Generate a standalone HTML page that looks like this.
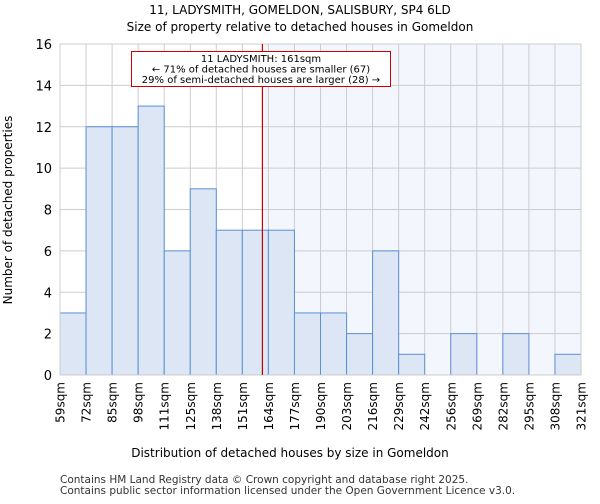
<!DOCTYPE html>
<html><head><meta charset="utf-8"><style>
body{margin:0;background:#fff;font-family:"DejaVu Sans","Liberation Sans",sans-serif}
</style></head><body>
<svg width="600" height="500" style="font-family:'DejaVu Sans','Liberation Sans',sans-serif">
<text x="300" y="14" text-anchor="middle" font-size="12">11, LADYSMITH, GOMELDON, SALISBURY, SP4 6LD</text>
<text x="300" y="31" text-anchor="middle" font-size="12">Size of property relative to detached houses in Gomeldon</text>
<g id="plot"></g>
<text x="290" y="457" text-anchor="middle" font-size="12">Distribution of detached houses by size in Gomeldon</text>
<text transform="translate(12,210) rotate(-90)" text-anchor="middle" font-size="12">Number of detached properties</text>
<text x="60" y="483" font-size="10.5" fill="#333">Contains HM Land Registry data © Crown copyright and database right 2025.</text>
<text x="60" y="494" font-size="10.5" fill="#333">Contains public sector information licensed under the Open Government Licence v3.0.</text>
</svg>
<script>
const binLabels=["59sqm","72sqm","85sqm","98sqm","111sqm","125sqm","138sqm","151sqm","164sqm","177sqm","190sqm","203sqm","216sqm","229sqm","242sqm","256sqm","269sqm","282sqm","295sqm","308sqm","321sqm"];
const counts=[3,12,12,13,6,9,7,7,7,3,3,2,6,1,0,2,0,2,0,1];
const yTicks=[0,2,4,6,8,10,12,14,16];
const markerIndex=7.77;
const NS="http://www.w3.org/2000/svg";
const L=60,R=581,T=44,B=375;
const n=counts.length;
const x=i=>L+(R-L)*i/n;
const y=v=>B-(B-T)*v/16;
const g=document.getElementById('plot');
function mk(t,a){const e=document.createElementNS(NS,t);for(const k in a)e.setAttribute(k,a[k]);g.appendChild(e);return e;}
let e=mk('rect',{x:x(markerIndex),y:T,width:R-x(markerIndex),height:B-T,fill:'#f3f6fd'});


yTicks.forEach(v=>{let l=mk('line',{x1:L,x2:R,y1:y(v),y2:y(v),stroke:'#ccc'});


let t=mk('text',{x:L-8,y:y(v)+5,'text-anchor':'end','font-size':13});t.textContent=v;

});
binLabels.forEach((s,i)=>{let l=mk('line',{x1:x(i),x2:x(i),y1:T,y2:B,stroke:'#ccc'});


let t=mk('text',{transform:`translate(${x(i)+4.5},382) rotate(-90)`,'text-anchor':'end','font-size':12});t.textContent=s;

});
counts.forEach((c,i)=>{if(!c)return;let r=mk('rect',{x:x(i),y:y(c),width:x(i+1)-x(i),height:B-y(c),fill:'#dce6f4',stroke:'#5b8fd6','stroke-width':1});

});
let ax=mk('rect',{x:L,y:T,width:R-L,height:B-T,fill:'none',stroke:'#ccc'});


let ml=mk('line',{x1:x(markerIndex),x2:x(markerIndex),y1:T,y2:B,stroke:'#cc0000','stroke-width':1.2});


let bx=mk('rect',{x:131.5,y:51.5,width:259,height:35,fill:'#fff',stroke:'#cc0000'});


["11 LADYSMITH: 161sqm","← 71% of detached houses are smaller (67)","29% of semi-detached houses are larger (28) →"].forEach((s,i)=>{let t=mk('text',{x:261,y:62+i*10.5,'text-anchor':'middle','font-size':10});t.textContent=s;

});
</script>
</body></html>
